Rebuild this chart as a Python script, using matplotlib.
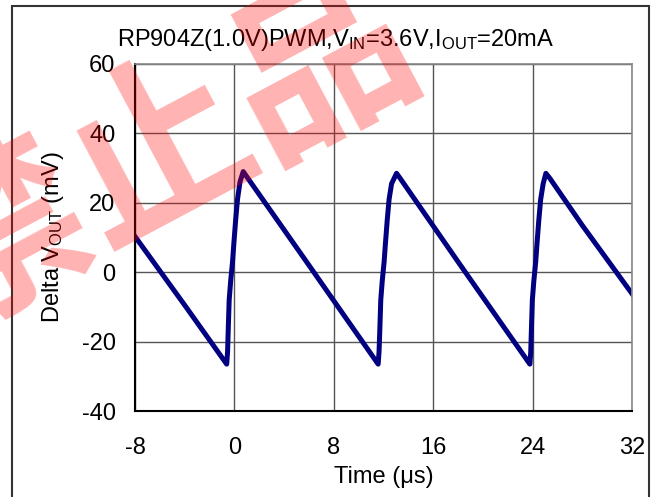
import matplotlib
matplotlib.use('Agg')
import matplotlib.pyplot as plt
from matplotlib.patches import Rectangle
from matplotlib.ticker import FuncFormatter

plt.rcParams['font.family'] = ['Liberation Sans', 'DejaVu Sans']
plt.rcParams['mathtext.default'] = 'regular'

# time (us) and output ripple (mV)
time_us = [-8, -4, -0.62, -0.55, -0.5, -0.42, -0.3, -0.15, -0.05, 0.1, 0.25, 0.45, 0.71,
           1.0, 6, 11.57, 11.64, 11.7, 11.78, 11.9, 12.05, 12.15, 12.3, 12.45, 12.65, 13.05,
           13.35, 18, 23.78, 23.85, 23.9, 23.98, 24.1, 24.25, 24.35, 24.5, 24.65, 24.85, 25.07,
           25.4, 28, 32]
delta_mv = [10.3, -9.5, -26.5, -23, -17, -8, -2.5, 3, 8, 15, 21, 26, 29,
            27.5, 2, -26.5, -23, -17, -8, -2.5, 3, 8, 15, 21, 25.5, 28.5,
            27, 3, -26.5, -23, -17, -8, -2.5, 3, 8, 15, 21, 25.5, 28.5,
            27, 13.5, -6.2]

x_ticks = [-8, 0, 8, 16, 24, 32]
y_ticks = [-40, -20, 0, 20, 40, 60]

fig = plt.figure(figsize=(6.63, 4.97), dpi=100)
ax = fig.add_axes([135/663, 1 - 411/497, 497/663, 347/497])

ax.plot(time_us, delta_mv, color='#000080', linewidth=3.6, solid_joinstyle='round')

ax.set_xlim(-8, 32)
ax.set_ylim(-40, 60)
ax.set_xticks(x_ticks)
ax.set_yticks(y_ticks)
# plain hyphen for negatives, like the original
fmt = FuncFormatter(lambda v, p: '%d' % v)
ax.xaxis.set_major_formatter(fmt)
ax.yaxis.set_major_formatter(fmt)
ax.grid(True, color='#555555', linewidth=1.0)
ax.set_axisbelow(True)
ax.tick_params(axis='both', length=0, labelsize=17, colors='black')
ax.tick_params(axis='x', pad=19)
ax.tick_params(axis='y', pad=14)

for s in ['left', 'bottom']:
    ax.spines[s].set_color('black')
    ax.spines[s].set_linewidth(1.5)
for s in ['top', 'right']:
    ax.spines[s].set_color('#888888')
    ax.spines[s].set_linewidth(1.2)

ax.set_xlabel('Time (μs)', fontsize=17, labelpad=5)
ax.set_ylabel('Delta V$_{OUT}$ (mV)', fontsize=17, labelpad=11)

fig.text(336/663, 1 - 40/497, 'RP904Z(1.0V)PWM,V$_{IN}$=3.6V,I$_{OUT}$=20mA',
         fontsize=17, ha='center', va='center')

# outer frame
fig.patches.append(Rectangle((12/663, -0.05), 637/663, 1.05 - 6/497,
                             transform=fig.transFigure, fill=False,
                             edgecolor='#333333', linewidth=1.5))

# watermark
fig.text(161/663, 1 - 157/497, '禁止品', fontsize=132, color='red', alpha=0.3,
         rotation=28, rotation_mode='anchor', ha='center', va='center',
         family=['Noto Sans CJK SC', 'DejaVu Sans'], weight='bold', zorder=10)

fig.savefig('out.png', dpi=100)
